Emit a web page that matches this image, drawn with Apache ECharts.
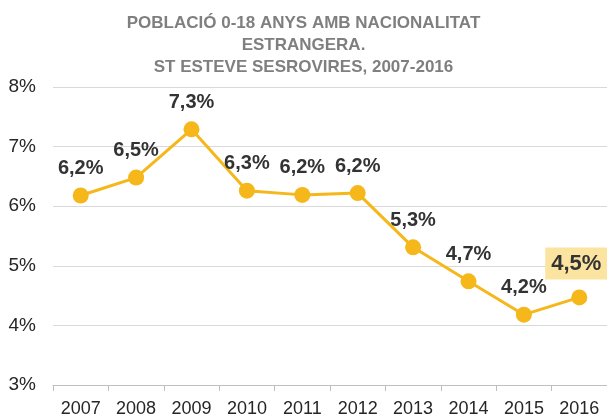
<!DOCTYPE html>
<html><head><meta charset="utf-8">
<script src="https://cdn.jsdelivr.net/npm/echarts@6/dist/echarts.min.js"></script>
<style>html,body{margin:0;padding:0;background:#fff}#c{width:607px;height:418px}</style>
</head><body><div id="c"></div>
<script>
const years = ['2007','2008','2009','2010','2011','2012','2013','2014','2015','2016'];
const values = [6.18, 6.48, 7.29, 6.26, 6.19, 6.22, 5.31, 4.74, 4.18, 4.47];
const yTicks = [3, 4, 5, 6, 7, 8];
const titleLines = ['POBLACIÓ 0-18 ANYS AMB NACIONALITAT', 'ESTRANGERA.', 'ST ESTEVE SESROVIRES, 2007-2016'];

const fmt = v => v.toFixed(1).replace('.', ',') + '%';
const chart = echarts.init(document.getElementById('c'));
const data = values.map((v, i) => {
  const d = { value: v };
  if (i === values.length - 1) {
    d.label = { backgroundColor: '#fbe3a0', padding: [6, 6, 4, 6], fontSize: 22, offset: [-3, -1] };
  }
  return d;
});
chart.setOption({
  animation: false,
  title: {
    text: titleLines.join('\n'),
    left: 'center', top: 7,
    textStyle: { fontFamily: 'Liberation Sans, Arial, sans-serif', fontSize: 17, fontWeight: 'bold', color: '#7f7f7f', lineHeight: 22 }
  },
  grid: { left: 53, right: 0, top: 87, bottom: 30 },
  xAxis: {
    type: 'category', data: years, boundaryGap: true,
    axisLine: { lineStyle: { color: '#bfbfbf' } },
    axisTick: { show: true, alignWithLabel: false, length: 6, lineStyle: { color: '#bfbfbf' } },
    axisLabel: { color: '#262626', fontSize: 18, fontFamily: 'Liberation Sans, Arial, sans-serif', margin: 15 }
  },
  yAxis: {
    type: 'value', min: yTicks[0], max: yTicks[yTicks.length - 1], interval: 1,
    axisLine: { show: false }, axisTick: { show: false },
    splitLine: { lineStyle: { color: '#d9d9d9' } },
    axisLabel: { formatter: v => v + '%', color: '#262626', fontSize: 19, fontFamily: 'Liberation Sans, Arial, sans-serif', margin: 17 }
  },
  series: [{
    type: 'line', data: data,
    symbol: 'circle', symbolSize: 16,
    lineStyle: { color: '#f5b719', width: 3 },
    itemStyle: { color: '#f5b719' },
    label: {
      show: true, position: 'top', distance: 9,
      formatter: p => fmt(p.value),
      fontFamily: 'Liberation Sans, Arial, sans-serif', fontSize: 20, fontWeight: 'bold', color: '#333333'
    }
  }]
});
</script></body></html>
